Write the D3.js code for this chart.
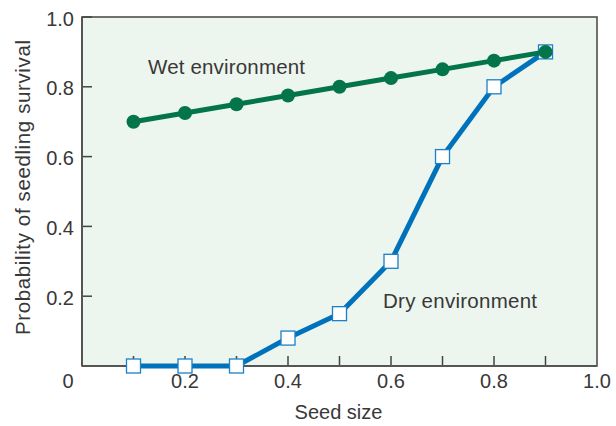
<!DOCTYPE html>
<html>
<head>
<meta charset="utf-8">
<script src="https://cdn.jsdelivr.net/npm/d3@7"></script>
<style>
  html, body { margin: 0; padding: 0; background: #ffffff; }
  svg { display: block; }
  text { font-family: "Liberation Sans", Arial, sans-serif; fill: #383838; }
</style>
</head>
<body>
<svg id="chart" width="616" height="426"></svg>
<script>
const seedSizes = [0.1, 0.2, 0.3, 0.4, 0.5, 0.6, 0.7, 0.8, 0.9];
const wetSurvival = [0.70, 0.725, 0.75, 0.775, 0.80, 0.825, 0.85, 0.875, 0.90];
const drySurvival = [0.0, 0.0, 0.0, 0.08, 0.15, 0.30, 0.60, 0.80, 0.90];
const xTickValues = [0.1, 0.2, 0.3, 0.4, 0.5, 0.6, 0.7, 0.8, 0.9];
const xTickLabels = ["0.2", "0.4", "0.6", "0.8", "1.0"];
const yTickLabels = ["0.2", "0.4", "0.6", "0.8", "1.0"];

(function () {
const svg = d3.select("#chart");
const pLeft = 82, pRight = 597, pTop = 17, pBottom = 366;

const x = d3.scaleLinear().domain([0, 1]).range([pLeft, pRight]);
const y = d3.scaleLinear().domain([0, 1]).range([pBottom, pTop]);

// plot background
svg.append("rect")
  .attr("x", pLeft).attr("y", pTop)
  .attr("width", pRight - pLeft).attr("height", pBottom - pTop)
  .attr("fill", "#ecf5ee")
  .attr("stroke", "#444").attr("stroke-width", 1.5);

// x ticks (inward)
svg.append("g").selectAll("line").data(xTickValues).join("line")
  .attr("x1", d => x(d)).attr("x2", d => x(d))
  .attr("y1", pBottom).attr("y2", pBottom - 10)
  .attr("stroke", "#444").attr("stroke-width", 1.5);

// y ticks (inward)
svg.append("g").selectAll("line").data(yTickLabels.map(Number)).join("line")
  .attr("x1", pLeft).attr("x2", pLeft + 10)
  .attr("y1", d => y(d)).attr("y2", d => y(d))
  .attr("stroke", "#444").attr("stroke-width", 1.5);

// axis lines (darker)
svg.append("line").attr("x1", pLeft).attr("x2", pLeft).attr("y1", pTop).attr("y2", pBottom)
  .attr("stroke", "#555").attr("stroke-width", 2);
svg.append("line").attr("x1", pLeft).attr("x2", pRight).attr("y1", pBottom).attr("y2", pBottom)
  .attr("stroke", "#555").attr("stroke-width", 2);

// x tick labels
svg.append("g").selectAll("text").data(xTickLabels).join("text")
  .attr("x", d => x(+d)).attr("y", pBottom + 22)
  .attr("text-anchor", "middle").attr("font-size", 20)
  .text(d => d);
svg.append("text").attr("x", 68).attr("y", pBottom + 22)
  .attr("text-anchor", "middle").attr("font-size", 20).text("0");

// y tick labels
svg.append("g").selectAll("text").data(yTickLabels).join("text")
  .attr("x", 74).attr("y", d => y(+d) + 8.5)
  .attr("text-anchor", "end").attr("font-size", 20)
  .text(d => d);

// axis titles
svg.append("text").attr("x", x(0.5) - 1).attr("y", 419)
  .attr("text-anchor", "middle").attr("font-size", 20).text("Seed size");
svg.append("text")
  .attr("transform", "translate(30, 187.5) rotate(-90)")
  .attr("text-anchor", "middle").attr("font-size", 20.5)
  .attr("textLength", 295).attr("lengthAdjust", "spacing")
  .text("Probability of seedling survival");

const line = d3.line().x(d => x(d[0])).y(d => y(d[1]));
const dryPts = seedSizes.map((s, i) => [s, drySurvival[i]]);
const wetPts = seedSizes.map((s, i) => [s, wetSurvival[i]]);

// dry series
svg.append("path").datum(dryPts).attr("d", line)
  .attr("fill", "none").attr("stroke", "#0072bc").attr("stroke-width", 5);
svg.append("g").selectAll("rect").data(dryPts).join("rect")
  .attr("x", d => x(d[0]) - 7).attr("y", d => y(d[1]) - 7)
  .attr("width", 14).attr("height", 14)
  .attr("fill", "#ffffff").attr("stroke", "#1a80c8").attr("stroke-width", 1.3);

// wet series
svg.append("path").datum(wetPts).attr("d", line)
  .attr("fill", "none").attr("stroke", "#04744a").attr("stroke-width", 5);
svg.append("g").selectAll("circle").data(wetPts).join("circle")
  .attr("cx", d => x(d[0])).attr("cy", d => y(d[1])).attr("r", 7)
  .attr("fill", "#04744a");

// annotations
svg.append("text").attr("x", 148).attr("y", 74).attr("font-size", 20.5)
  .attr("textLength", 157).attr("lengthAdjust", "spacing").text("Wet environment");
svg.append("text").attr("x", 383).attr("y", 308).attr("font-size", 20.5)
  .attr("textLength", 154).attr("lengthAdjust", "spacing").text("Dry environment");
})();
</script>
</body>
</html>
